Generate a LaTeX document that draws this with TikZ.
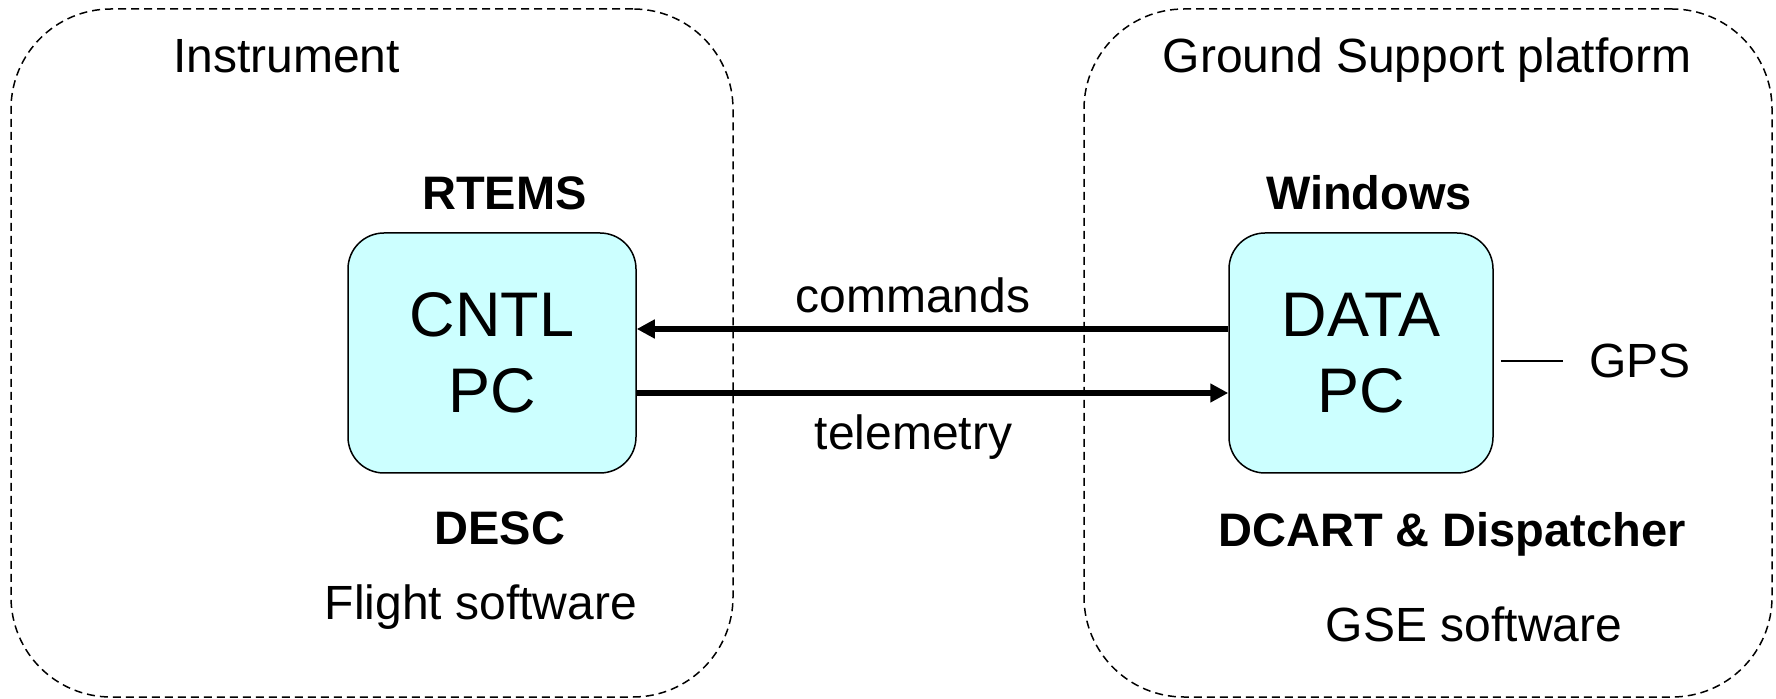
\documentclass[tikz,border=0pt]{standalone}
\usepackage{fontspec}
\setmainfont{Liberation Sans}
\usetikzlibrary{positioning,arrows.meta}
\definecolor{pcfill}{HTML}{CCFFFF}
\tikzset{
	>={Triangle[length=9pt,width=9pt]},
}

\begin{document}
\begin{tikzpicture}[x=0.5pt,y=-0.5pt,
		group/.style={rectangle, draw, dashed, dash pattern=on 4pt off 2.5pt, line width=0.75pt, rounded corners=50pt},
		pc/.style={rectangle, draw, line width=0.75pt, rounded corners=18pt, fill=pcfill, align=center, font=\fontsize{31.5}{38}\selectfont},
		txt/.style={anchor=base, inner sep=0pt, font=\fontsize{24}{28}\selectfont},
		os/.style={txt, font=\fontsize{23.5}{28}\selectfont\bfseries},
		link/.style={->, line width=2.75pt},
	]
	\useasboundingbox (0,0) rectangle (1776,699);
	% the two sides
	\node(instr)[group, minimum width=361pt, minimum height=344pt] at (372,353) {};
	\node(ground)[group, minimum width=344pt, minimum height=344pt] at (1428,353) {};
	\node[txt] at (286.5,73) {Instrument};
	\node[txt] at (1427,73) {Ground Support platform};
	% computers
	\node(cntl)[pc, minimum width=144pt, minimum height=120pt] at (492,353) {CNTL\\PC};
	\node(data)[pc, minimum width=132pt, minimum height=120pt] at (1361,353) {DATA\\PC};
	\node[os] at (504.5,210) {RTEMS};
	\node[os] at (1369,210) {Windows};
	\node[os] at (500,545) {DESC};
	\node[os] at (1452,546) {DCART \& Dispatcher};
	\node[txt] at (481,619) {Flight software};
	\node[txt] at (1474,641) {GSE software};
	\node(gps)[txt, anchor=base, inner sep=8pt] at (1640,378) {GPS};
	% links
	\draw[link] ([yshift=12pt]data.west) -- ([yshift=12pt]cntl.east);
	\node[txt] at (913,313) {commands};
	\draw[link] ([yshift=-20pt]cntl.east) -- ([yshift=-20pt]data.west);
	\node[txt] at (913.5,450) {telemetry};
	\draw[line width=1pt, shorten <=3.5pt, shorten >=5pt] (data.east |- gps.west) -- (gps.west);
\end{tikzpicture}
\end{document}
